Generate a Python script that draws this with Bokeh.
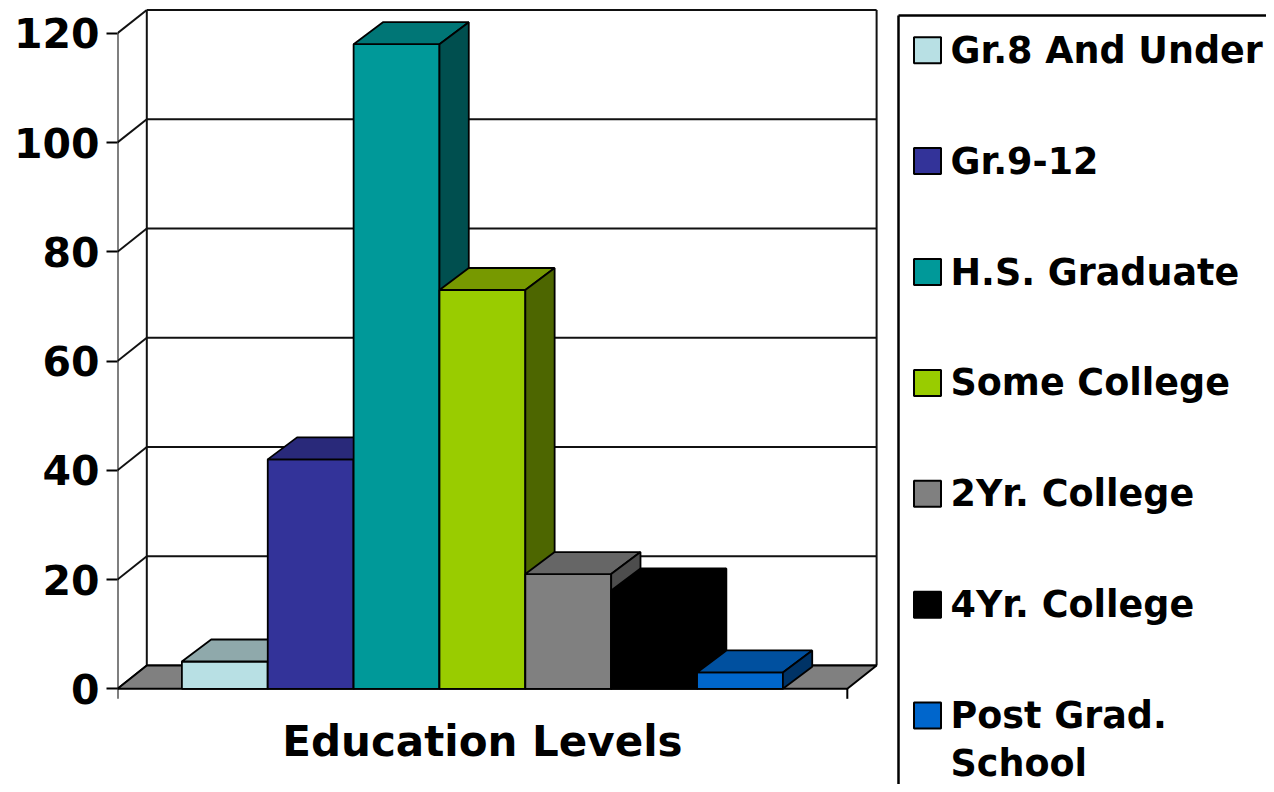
from bokeh.plotting import figure
from bokeh.models import Range1d, FixedTicker
from bokeh.core.properties import value
from bokeh.embed import file_html
from bokeh.resources import INLINE

# ---------------- data ----------------
categories = ["Gr.8 And Under", "Gr.9-12", "H.S. Graduate", "Some College",
              "2Yr. College", "4Yr. College", "Post Grad.\nSchool"]
values = [5, 42, 118, 73, 21, 18, 3]
front_colors = ["#B8E0E4", "#333399", "#009999", "#99CC00", "#808080", "#000000", "#0066CC"]
top_colors = ["#8FA9AB", "#29297A", "#007676", "#779900", "#666666", "#000000", "#00509F"]
side_colors = ["#6E8688", "#1F1F5C", "#004F4F", "#4D6600", "#4D4D4D", "#000000", "#003366"]
y_ticks = [0, 20, 40, 60, 80, 100, 120]
x_title = "Education Levels"

FONT = "DejaVu Sans"

# ---------------- layout (pixels) ----------------
W, H = 1266, 784
LEFT, TOP = 117, 4          # frame left / top in canvas pixels
ZERO_PX = 688.3             # canvas y of value 0
SX, SY = 85.86, 5.463       # pixels per category unit / per value unit

N = len(values)
PAD = 0.75                  # floor margin on each side of the bars
DX, DY = 29.3 / SX, 23.3 / SY   # floor / back-wall depth
BDX, BDY = 29.3 / SX, 22.0 / SY # bar depth
x_start = -PAD
x_front_end = N + PAD
x_end = x_start + (W - LEFT) / SX
y_end = (ZERO_PX - TOP) / SY
y_start = -(H - ZERO_PX) / SY
y_top = max(y_ticks)


def xd(px):
    return x_start + (px - LEFT) / SX


def yd(py):
    return (ZERO_PX - py) / SY


p = figure(frame_width=W - LEFT, frame_height=H - TOP, min_border_left=LEFT,
           min_border_right=0, min_border_top=TOP, min_border_bottom=0,
           x_range=Range1d(x_start, x_end), y_range=Range1d(y_start, y_end),
           toolbar_location=None, output_backend="svg", title=None)
p.outline_line_color = None
p.xgrid.visible = False
p.ygrid.visible = False
p.xaxis.visible = False

# y axis
p.yaxis.ticker = FixedTicker(ticks=y_ticks)
p.yaxis.axis_line_color = None
p.yaxis.major_tick_out = 11
p.yaxis.major_tick_in = 0
p.yaxis.major_tick_line_width = 2
p.yaxis.major_tick_line_color = "black"
p.yaxis.minor_tick_line_color = None
p.yaxis.major_label_standoff = 7
p.yaxis.major_label_text_font = FONT
p.yaxis.major_label_text_font_size = "41px"
p.yaxis.major_label_text_font_style = "bold"
p.yaxis.major_label_text_color = "black"

# back wall: gridlines, diagonals and edges
lx, ly = [], []
for t in y_ticks:
    lx.append([x_start + DX, x_front_end + DX]); ly.append([t + DY, t + DY])
    lx.append([x_start, x_start + DX]); ly.append([t, t + DY])
lx.append([x_start + DX, x_start + DX]); ly.append([DY, y_top + DY])
lx.append([x_front_end + DX, x_front_end + DX]); ly.append([DY, y_top + DY])
p.multi_line(lx, ly, line_color="#111111", line_width=2)

# floor
p.patch([x_start, x_front_end, x_front_end + DX, x_start + DX], [0, 0, DY, DY],
        fill_color="#808080", line_color="black", line_width=2)

# bars (front, top, side) drawn left to right
bx, by, bc = [], [], []
for i, v in enumerate(values):
    x0, x1 = i, i + 1
    bx.append([x0, x1, x1, x0]); by.append([0, 0, v, v]); bc.append(front_colors[i])
    bx.append([x0, x1, x1 + BDX, x0 + BDX]); by.append([v, v, v + BDY, v + BDY]); bc.append(top_colors[i])
    bx.append([x1, x1 + BDX, x1 + BDX, x1]); by.append([0, BDY, v + BDY, v]); bc.append(side_colors[i])
p.patches(bx, by, fill_color=bc, line_color="black", line_width=1.8)

# front vertical axis line and the two category-axis end ticks
tick_len = 10 / SY
p.multi_line([[x_start, x_start], [x_start, x_start], [x_front_end, x_front_end]],
             [[0, y_top], [0, -tick_len], [0, -tick_len]], line_color="black", line_width=2)

# category axis title, centred under the floor
p.text(x=[(x_start + x_front_end) / 2], y=[yd(741)], text=[x_title], text_font=value(FONT),
       text_font_size="42px", text_font_style="bold", text_align="center",
       text_baseline="middle", text_color="black")

# ---------------- legend ----------------
box_x, box_y = xd(898), yd(15)
p.multi_line([[box_x, box_x], [box_x, x_end + 1]], [[box_y, y_start - 1], [box_y, box_y]],
             line_color="black", line_width=2.5)

sq_px = [49.7 + 110.9 * i for i in range(N)]
p.rect(x=[xd(927)] * N, y=[yd(py) for py in sq_px], width=27, height=26,
       width_units="screen", height_units="screen", fill_color=front_colors,
       line_color="black", line_width=2)
txt_y = [yd(py + 24 * c.count("\n")) for py, c in zip(sq_px, categories)]
p.text(x=[xd(950)] * N, y=txt_y, text=categories, text_font=value(FONT), text_font_size="36.5px",
       text_font_style="bold", text_align="left", text_baseline="middle",
       text_line_height=1.125, text_color="black")

open("out.html", "w").write(file_html(p, INLINE))
